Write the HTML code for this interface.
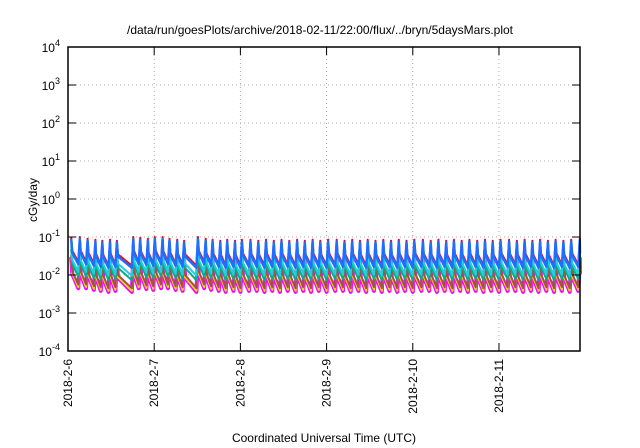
<!DOCTYPE html>
<html><head><meta charset="utf-8"><style>
body{margin:0;background:#fff}
svg{display:block;font-family:"Liberation Sans",sans-serif}
</style></head><body>
<svg id="chart" width="640" height="448">
<text x="320" y="34" text-anchor="middle" font-size="12">/data/run/goesPlots/archive/2018-02-11/22:00/flux/../bryn/5daysMars.plot</text>
<text transform="translate(37,200) rotate(-90)" text-anchor="middle" font-size="12">cGy/day</text>
<text x="324" y="442" text-anchor="middle" font-size="12">Coordinated Universal Time (UTC)</text>
<g id="grid"></g><g id="series"></g><g id="axes"></g>
</svg>
<script>
const dayLabels=["2018-2-6","2018-2-7","2018-2-8","2018-2-9","2018-2-10","2018-2-11"];
const yExps=[-4,-3,-2,-1,0,1,2,3,4];
const peakTimes=[0.02,0.12,0.21,0.3,0.38,0.47,0.55,0.74,0.82,0.91,0.99,1.08,1.16,1.25,1.33,1.49,1.58,1.66,1.75,1.83,1.92,2.0,2.1,2.19,2.28,2.37,2.46,2.55,2.64,2.73,2.82,2.91,3.0,3.1,3.19,3.28,3.37,3.46,3.55,3.64,3.73,3.82,3.91,4.0,4.1,4.19,4.28,4.37,4.46,4.55,4.64,4.73,4.82,4.91,5.0,5.1,5.19,5.28,5.37,5.46,5.55,5.64,5.73,5.82,5.92];
const peakVals=[0.1,0.1,0.09,0.085,0.08,0.085,0.08,0.1,0.095,0.09,0.1,0.1,0.09,0.085,0.08,0.1,0.09,0.085,0.08,0.085,0.08,0.085,0.085,0.08,0.085,0.08,0.085,0.08,0.085,0.08,0.085,0.08,0.085,0.085,0.08,0.085,0.08,0.085,0.08,0.085,0.08,0.085,0.08,0.085,0.085,0.08,0.085,0.08,0.085,0.08,0.085,0.08,0.085,0.08,0.085,0.085,0.08,0.085,0.08,0.085,0.08,0.085,0.08,0.085,0.09];
const seriesNames=["magenta","yellow","brown","teal","cyan","red","blue"];
const seriesColors=["#ff00ff","#e6e600","#a05050","#00b08a","#20d0e0","#ff0000","#1e6fff"];
const seriesFactors=[0.3,0.3,0.33,0.48,0.6,1.0,0.88];
const seriesTroughs=[0.15,0.16,0.17,0.19,0.2,0.22,0.22];
const seriesWidths=[4,2,2,2,2,2,2.5];
const X0=68,X1=580,Y0=351,Y1=47,xMax=5.94;
const x=t=>X0+(X1-X0)*t/xMax;
const y=v=>Y0-(Math.log10(v)+4)*(Y0-Y1)/8;
const NS="http://www.w3.org/2000/svg";
const g=document.getElementById('grid'),s=document.getElementById('series'),a=document.getElementById('axes');
function mk(tag,at,p){const e=document.createElementNS(NS,tag);for(const k in at)e.setAttribute(k,at[k]);p.appendChild(e);return e;}
yExps.forEach(e=>{const yy=y(Math.pow(10,e));
 if(e>-4&&e<4){const l=mk('line',{x1:X0,x2:X1,y1:yy,y2:yy,stroke:'#aaa','stroke-dasharray':'1,3'},g);}
 mk('line',{x1:X0,x2:X0+8,y1:yy,y2:yy,stroke:'#000'},a);mk('line',{x1:X1,x2:X1-8,y1:yy,y2:yy,stroke:'#000'},a);
 const t=mk('text',{x:X0-8,y:yy+5,'text-anchor':'end','font-size':'12'},a);
 
 
 t.innerHTML='10<tspan dy="-6" font-size="9">'+e+'</tspan>';});
dayLabels.forEach((d,i)=>{const xx=x(i);
 if(i>0){const l=mk('line',{x1:xx,x2:xx,y1:Y1,y2:Y0,stroke:'#aaa','stroke-dasharray':'1,3'},g);}
 mk('line',{x1:xx,x2:xx,y1:Y0,y2:Y0-8,stroke:'#000'},a);mk('line',{x1:xx,x2:xx,y1:Y1,y2:Y1+8,stroke:'#000'},a);
 const t=mk('text',{transform:`translate(${xx+4},${Y0+8}) rotate(-90)`,'text-anchor':'end','font-size':'12'},a);
 
 
 t.textContent=d;});
const fr=mk('rect',{x:X0,y:Y1,width:X1-X0,height:Y0-Y1,fill:'none',stroke:'#000','stroke-width':1.5},a);


seriesNames.forEach((n,si)=>{const f=seriesFactors[si],r=seriesTroughs[si];let pts=[];
 peakTimes.forEach((t,i)=>{const pv=peakVals[i]*f;
  if(i>0){const t0=peakTimes[i-1],p0=peakVals[i-1]*f,gap=t-t0;
   const tm=t0+Math.min(0.03,gap*0.3);
   pts.push([x(tm),y(p0*Math.pow(r,0.55))]);
   pts.push([x(t),y(p0*r)]);}
  pts.push([x(t)+1.5,y(pv)]);});
 const last=peakVals[peakVals.length-1]*f;
 pts.push([X1,y(last*Math.pow(r,0.5))]);
 const p=mk('polyline',{points:pts.map(q=>q.map(v=>v.toFixed(1)).join(',')).join(' '),fill:'none',stroke:seriesColors[si],'stroke-width':seriesWidths[si],'stroke-linejoin':'round'},s);
 
 });
</script>
</body></html>
